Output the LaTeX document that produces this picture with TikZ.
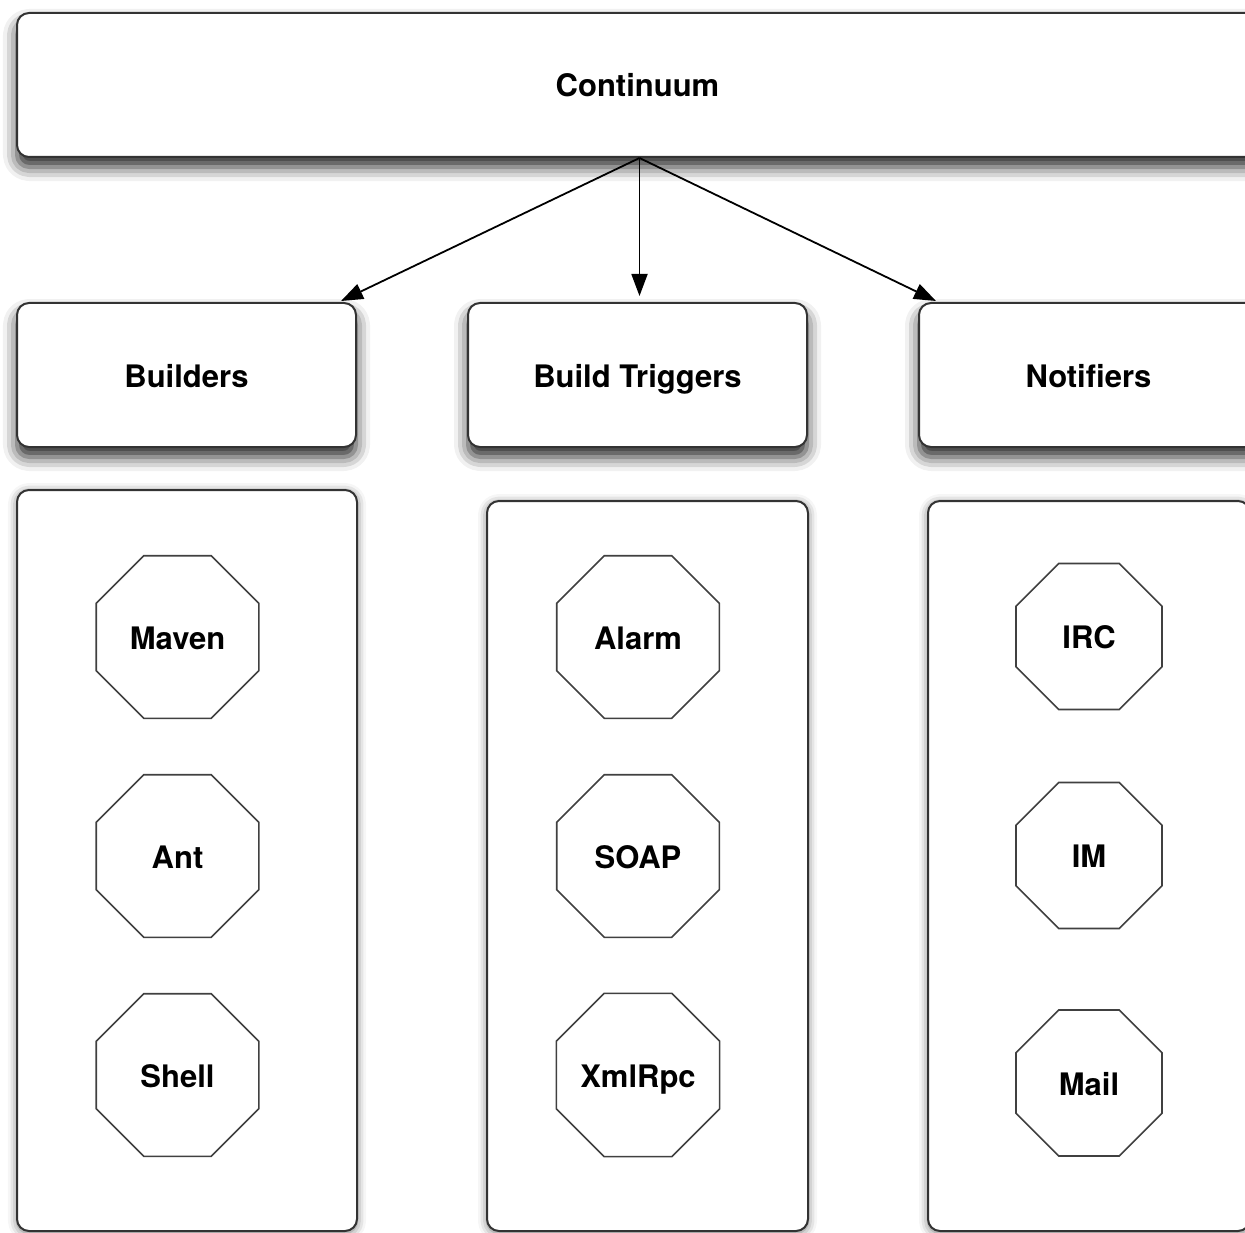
\documentclass[tikz,border=0pt]{standalone}
\usepackage{fontspec}
\setsansfont{TeX Gyre Heros}
\usetikzlibrary{shapes.geometric,arrows.meta,shadows.blur}

\tikzset{
  box/.style={draw=black!80, line width=2pt, fill=white, rounded corners=12pt,
    font=\sffamily\bfseries\fontsize{31}{36}\selectfont, text height=30pt, text depth=6pt,
    blur shadow={shadow xshift=0pt, shadow yshift=-10pt, shadow blur radius=14pt, shadow opacity=85}},
  holder/.style={draw=black!80, line width=2pt, fill=white, rounded corners=12pt,
    blur shadow={shadow xshift=0pt, shadow yshift=-2pt, shadow blur radius=9pt, shadow opacity=55}},
  oct/.style={draw=black!75, line width=1.6pt, fill=white, regular polygon, regular polygon sides=8,
    inner sep=0pt, font=\sffamily\bfseries\fontsize{31}{36}\selectfont, text height=30pt, text depth=6pt},
}

\begin{document}
\begin{tikzpicture}[x=1pt, y=-1pt, >={Triangle[length=22pt,width=16pt]}]
  \useasboundingbox (0,0) rectangle (1245,1233);
  \clip (0,0) rectangle (1245,1233);

  % The top box
  \node[box, minimum width=1241pt, minimum height=144pt] (cont) at (637.5,85) {Continuum};

  % The three groups
  \node[box, minimum width=339pt, minimum height=144pt] (build) at (186.5,375) {Builders};
  \node[box, minimum width=339pt, minimum height=144pt] (trig) at (637.5,375) {Build Triggers};
  \node[box, minimum width=339pt, minimum height=144pt] (notif) at (1088.5,375) {Notifiers};

  % Holders for the members of each group
  \node[holder, minimum width=340pt, minimum height=741pt] (buildset) at (187,860.5) {};
  \node[holder, minimum width=321pt, minimum height=730pt] (trigset) at (647.5,866) {};
  \node[holder, minimum width=322pt, minimum height=730pt] (notifset) at (1089,866) {};

  % The members
  \foreach \name/\x/\y/\s/\txt in {maven/177.5/637/176/Maven, ant/177.5/856/176/Ant,
      shell/177.5/1075/176/Shell, alarm/638/637/176/Alarm, soap/638/856/176/SOAP,
      xmlrpc/638/1075/176/XmlRpc, irc/1089/636.5/158/IRC, im/1089/855.5/158/IM,
      mail/1089/1083/158/Mail}
    \node[oct, minimum size=\s pt] (\name) at (\x,\y) {\txt};

  % Arrows from the top box, all from one point
  \coordinate (hub) at ([xshift=2pt]cont.south);
  \draw[->, line width=1.8pt] (hub) -- ([xshift=-16pt, yshift=1pt]build.north east);
  \draw[->, line width=1.8pt, shorten >=6pt] (hub) -- (hub |- trig.north);
  \draw[->, line width=1.8pt] (hub) -- ([xshift=18pt, yshift=1pt]notif.north west);
\end{tikzpicture}
\end{document}
